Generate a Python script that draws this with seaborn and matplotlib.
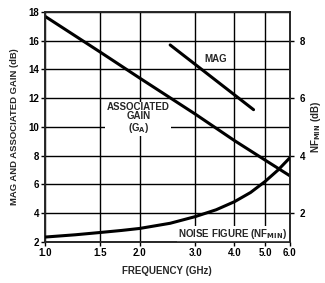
import matplotlib
matplotlib.use("Agg")
import matplotlib.pyplot as plt
import seaborn as sns
import pandas as pd

# values
freq_ticks = [1.0, 1.5, 2.0, 3.0, 4.0, 5.0, 6.0]
freq_labels = ["1.0", "1.5", "2.0", "3.0", "4.0", "5.0", "6.0"]

freq_ga = [1.0, 1.5, 2.0, 3.0, 4.0, 5.0, 6.0]
ga_db = [17.7, 15.2, 13.4, 10.9, 9.05, 7.7, 6.6]

freq_mag = [2.5, 4.6]
mag_db = [15.7, 11.2]

freq_nf = [1.0, 1.25, 1.5, 1.75, 2.0, 2.5, 3.0, 3.5, 4.0, 4.5, 5.0, 5.5, 6.0]
nf_db = [1.17, 1.25, 1.33, 1.40, 1.47, 1.65, 1.88, 2.12, 2.4, 2.72, 3.1, 3.5, 3.93]

sns.set_style("ticks")
plt.rcParams["font.family"] = ["Liberation Sans", "DejaVu Sans"]
plt.rcParams["font.weight"] = "bold"

fig = plt.figure(figsize=(3.25, 2.83), dpi=100)
ax = fig.add_axes([0.138, 0.145, 0.754, 0.813])

df_ga = pd.DataFrame({"f": freq_ga, "g": ga_db})
df_mag = pd.DataFrame({"f": freq_mag, "g": mag_db})
df_nf = pd.DataFrame({"f": freq_nf, "nf": nf_db})

sns.lineplot(data=df_ga, x="f", y="g", ax=ax, color="black", lw=2.2, zorder=3)
sns.lineplot(data=df_mag, x="f", y="g", ax=ax, color="black", lw=2.2, zorder=3)

ax.set_xscale("log")
ax.set_xlim(1.0, 6.0)
ax.set_ylim(2, 18)
ax.set_xticks(freq_ticks)
ax.set_xticklabels(freq_labels)
ax.xaxis.set_minor_locator(matplotlib.ticker.NullLocator())
ax.set_yticks(range(2, 19, 2))
ax.grid(True, color="black", lw=1.0)
for s in ax.spines.values():
    s.set_linewidth(1.2)
ax.tick_params(labelsize=7, length=3, width=1, colors="black", pad=1)
ax.set_xlabel("FREQUENCY (GHz)", fontsize=7, fontweight="bold", labelpad=6)
ax.set_ylabel("MAG AND ASSOCIATED GAIN (dB)", fontsize=6.8, fontweight="bold", labelpad=7)

ax2 = ax.twinx()
sns.lineplot(data=df_nf, x="f", y="nf", ax=ax2, color="black", lw=2.2, zorder=3)
ax2.set_ylim(1, 9)
ax2.set_yticks([2, 4, 6, 8])
ax2.tick_params(labelsize=7, length=3, width=1, colors="black", pad=4)
ax2.set_ylabel("NF$_{\\mathbf{MIN}}$ (dB)", fontsize=7, fontweight="bold", labelpad=3)
ax2.set_xlabel("")
ax2.grid(False)
for s in ax2.spines.values():
    s.set_linewidth(1.2)

box = dict(facecolor="white", edgecolor="none", pad=1)
ax.text(3.5, 14.7, "MAG", fontsize=7, fontweight="bold", ha="center", va="center", bbox=box, zorder=4)
ax.text(1.98, 10.6, "ASSOCIATED\nGAIN\n(G$_\\mathbf{A}$)", fontsize=7, fontweight="bold",
        ha="center", va="center", linespacing=0.95, bbox=box, zorder=4)
ax.text(5.9, 2.55, "NOISE FIGURE (NF$_{\\mathbf{MIN}}$)", fontsize=7, fontweight="bold",
        ha="right", va="center", bbox=box, zorder=4)

fig.savefig("out.png", dpi=100)
